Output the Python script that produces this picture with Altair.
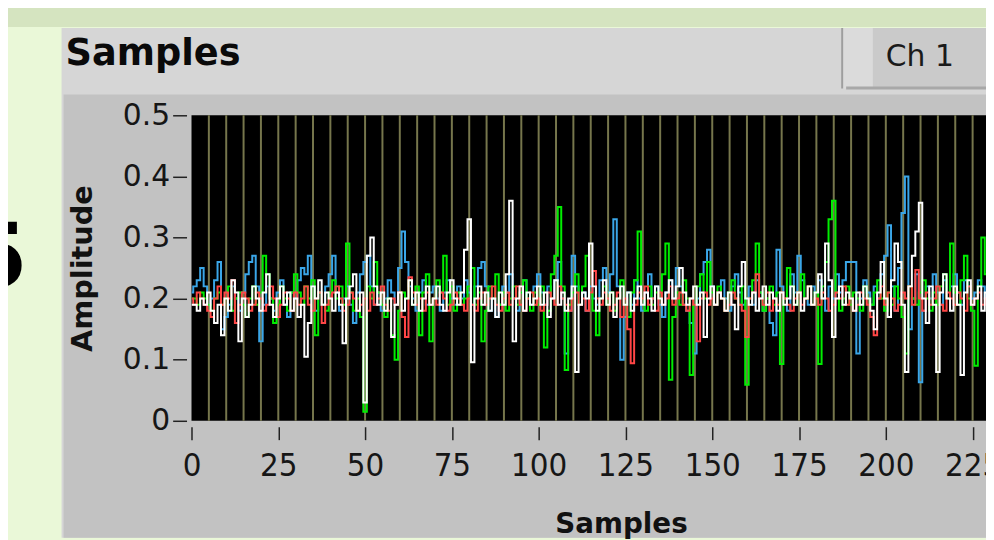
import altair as alt
import pandas as pd

# ---------------- data ----------------
ch_blue = [
    0.21, 0.22, 0.23, 0.25, 0.22, 0.19, 0.20, 0.23, 0.26, 0.15,
    0.17, 0.19, 0.22, 0.20, 0.18, 0.21, 0.24, 0.26, 0.27, 0.22,
    0.13, 0.19, 0.22, 0.20, 0.18, 0.21, 0.23, 0.19, 0.17, 0.21,
    0.20, 0.23, 0.25, 0.24, 0.27, 0.22, 0.18, 0.21, 0.19, 0.22,
    0.24, 0.27, 0.21, 0.18, 0.20, 0.22, 0.19, 0.16, 0.21, 0.24,
    0.26, 0.27, 0.22, 0.19, 0.21, 0.18, 0.20, 0.23, 0.21, 0.19,
    0.25, 0.31, 0.26, 0.22, 0.20, 0.18, 0.21, 0.23, 0.19, 0.21,
    0.22, 0.20, 0.18, 0.21, 0.23, 0.20, 0.19, 0.22, 0.20, 0.23,
    0.21, 0.19, 0.22, 0.25, 0.26, 0.22, 0.18, 0.20, 0.17, 0.19,
    0.22, 0.21, 0.24, 0.20, 0.18, 0.21, 0.23, 0.20, 0.19, 0.22,
    0.24, 0.21, 0.19, 0.22, 0.20, 0.23, 0.26, 0.20, 0.11, 0.18,
    0.27, 0.22, 0.19, 0.21, 0.18, 0.22, 0.20, 0.19, 0.23, 0.25,
    0.21, 0.24, 0.33, 0.22, 0.10, 0.17, 0.21, 0.19, 0.23, 0.20,
    0.18, 0.21, 0.24, 0.20, 0.22, 0.19, 0.17, 0.21, 0.23, 0.20,
    0.25, 0.22, 0.19, 0.18, 0.16, 0.11, 0.20, 0.24, 0.26, 0.28,
    0.22, 0.19, 0.21, 0.23, 0.20, 0.18, 0.22, 0.24, 0.21, 0.19,
    0.20, 0.22, 0.19, 0.23, 0.21, 0.18, 0.20, 0.16, 0.14, 0.28,
    0.22, 0.20, 0.18, 0.24, 0.21, 0.27, 0.23, 0.20, 0.19, 0.22,
    0.21, 0.23, 0.20, 0.18, 0.22, 0.20, 0.24, 0.21, 0.23, 0.26,
    0.26, 0.26, 0.11, 0.20, 0.23, 0.21, 0.19, 0.22, 0.20, 0.24,
    0.27, 0.32, 0.22, 0.18, 0.25, 0.34, 0.40, 0.15, 0.20, 0.24,
    0.063, 0.18, 0.22, 0.20, 0.24, 0.21, 0.19, 0.23, 0.20, 0.22,
    0.24, 0.21, 0.19, 0.23, 0.22, 0.20, 0.21, 0.23, 0.22, 0.20,
]
ch_green = [
    0.20, 0.20, 0.19, 0.21, 0.20, 0.19, 0.18, 0.20, 0.21, 0.19,
    0.20, 0.22, 0.18, 0.20, 0.21, 0.19, 0.17, 0.20, 0.22, 0.19,
    0.21, 0.27, 0.24, 0.20, 0.16, 0.19, 0.22, 0.20, 0.18, 0.21,
    0.24, 0.21, 0.19, 0.22, 0.20, 0.23, 0.14, 0.21, 0.19, 0.18,
    0.21, 0.23, 0.20, 0.22, 0.19, 0.29, 0.21, 0.18, 0.20, 0.17,
    0.015, 0.22, 0.20, 0.26, 0.21, 0.19, 0.17, 0.20, 0.14, 0.10,
    0.18, 0.21, 0.20, 0.23, 0.19, 0.22, 0.14, 0.21, 0.24, 0.13,
    0.20, 0.23, 0.21, 0.27, 0.19, 0.22, 0.18, 0.21, 0.19, 0.20,
    0.22, 0.25, 0.19, 0.21, 0.13, 0.18, 0.22, 0.20, 0.24, 0.19,
    0.21, 0.18, 0.20, 0.22, 0.19, 0.21, 0.23, 0.20, 0.18, 0.21,
    0.19, 0.22, 0.12, 0.18, 0.24, 0.27, 0.35, 0.22, 0.083, 0.19,
    0.21, 0.24, 0.19, 0.22, 0.27, 0.21, 0.18, 0.14, 0.20, 0.22,
    0.19, 0.21, 0.18, 0.20, 0.23, 0.19, 0.17, 0.21, 0.23, 0.31,
    0.20, 0.18, 0.22, 0.19, 0.21, 0.20, 0.24, 0.29, 0.067, 0.17,
    0.21, 0.19, 0.23, 0.20, 0.075, 0.19, 0.22, 0.24, 0.20, 0.26,
    0.21, 0.19, 0.22, 0.20, 0.18, 0.21, 0.23, 0.20, 0.19, 0.22,
    0.059, 0.20, 0.23, 0.29, 0.21, 0.18, 0.20, 0.22, 0.19, 0.21,
    0.093, 0.20, 0.25, 0.22, 0.19, 0.21, 0.24, 0.20, 0.22, 0.19,
    0.21, 0.093, 0.22, 0.26, 0.33, 0.36, 0.21, 0.18, 0.20, 0.22,
    0.19, 0.21, 0.20, 0.18, 0.22, 0.20, 0.19, 0.21, 0.23, 0.20,
    0.18, 0.21, 0.19, 0.22, 0.20, 0.17, 0.11, 0.22, 0.20, 0.19,
    0.21, 0.23, 0.20, 0.18, 0.21, 0.19, 0.22, 0.24, 0.20, 0.29,
    0.21, 0.19, 0.23, 0.27, 0.20, 0.18, 0.09, 0.22, 0.30, 0.24,
]
ch_red = [
    0.20, 0.19, 0.21, 0.20, 0.19, 0.18, 0.17, 0.20, 0.22, 0.19,
    0.21, 0.20, 0.23, 0.16, 0.19, 0.21, 0.20, 0.18, 0.19, 0.21,
    0.20, 0.18, 0.19, 0.22, 0.20, 0.17, 0.19, 0.21, 0.20, 0.18,
    0.21, 0.19, 0.20, 0.22, 0.19, 0.18, 0.20, 0.21, 0.16, 0.19,
    0.20, 0.21, 0.22, 0.20, 0.18, 0.19, 0.21, 0.20, 0.18, 0.19,
    0.20, 0.18, 0.21, 0.19, 0.20, 0.22, 0.19, 0.18, 0.20, 0.19,
    0.21, 0.17, 0.137, 0.235, 0.21, 0.19, 0.20, 0.18, 0.21, 0.19,
    0.20, 0.19, 0.21, 0.20, 0.18, 0.19, 0.21, 0.20, 0.19, 0.18,
    0.20, 0.19, 0.18, 0.20, 0.21, 0.19, 0.20, 0.22, 0.19, 0.18,
    0.20, 0.21, 0.19, 0.20, 0.22, 0.19, 0.18, 0.20, 0.21, 0.19,
    0.20, 0.18, 0.19, 0.21, 0.20, 0.19, 0.22, 0.20, 0.19, 0.18,
    0.20, 0.21, 0.19, 0.20, 0.18, 0.21, 0.245, 0.20, 0.19, 0.21,
    0.20, 0.18, 0.19, 0.21, 0.17, 0.20, 0.15, 0.094, 0.19, 0.21,
    0.20, 0.22, 0.19, 0.20, 0.18, 0.21, 0.19, 0.20, 0.22, 0.19,
    0.20, 0.21, 0.19, 0.18, 0.20, 0.19, 0.13, 0.20, 0.21, 0.19,
    0.20, 0.19, 0.21, 0.20, 0.18, 0.19, 0.21, 0.20, 0.19, 0.18,
    0.137, 0.20, 0.21, 0.24, 0.20, 0.19, 0.21, 0.18, 0.20, 0.19,
    0.21, 0.20, 0.19, 0.18, 0.20, 0.21, 0.19, 0.20, 0.22, 0.19,
    0.20, 0.19, 0.21, 0.20, 0.18, 0.19, 0.21, 0.20, 0.22, 0.19,
    0.20, 0.18, 0.19, 0.21, 0.20, 0.19, 0.17, 0.14, 0.20, 0.22,
    0.19, 0.21, 0.20, 0.18, 0.19, 0.21, 0.20, 0.22, 0.19, 0.247,
    0.20, 0.18, 0.21, 0.19, 0.20, 0.22, 0.19, 0.18, 0.21, 0.20,
    0.19, 0.21, 0.20, 0.18, 0.22, 0.19, 0.20, 0.21, 0.19, 0.20,
]
ch_white = [
    0.19, 0.19, 0.18, 0.20, 0.19, 0.21, 0.18, 0.16, 0.19, 0.14,
    0.20, 0.18, 0.23, 0.21, 0.13, 0.20, 0.17, 0.19, 0.22, 0.20,
    0.18, 0.21, 0.24, 0.19, 0.17, 0.20, 0.22, 0.19, 0.21, 0.18,
    0.20, 0.17, 0.19, 0.105, 0.16, 0.22, 0.20, 0.23, 0.19, 0.21,
    0.20, 0.18, 0.21, 0.19, 0.127, 0.20, 0.22, 0.24, 0.18, 0.21,
    0.03, 0.27, 0.30, 0.22, 0.19, 0.21, 0.18, 0.20, 0.137, 0.19,
    0.21, 0.18, 0.20, 0.23, 0.19, 0.21, 0.18, 0.20, 0.22, 0.19,
    0.20, 0.22, 0.19, 0.18, 0.21, 0.23, 0.20, 0.19, 0.21, 0.28,
    0.33, 0.096, 0.20, 0.22, 0.19, 0.21, 0.18, 0.20, 0.17, 0.21,
    0.19, 0.24, 0.36, 0.13, 0.20, 0.22, 0.18, 0.21, 0.19, 0.20,
    0.22, 0.19, 0.21, 0.17, 0.20, 0.23, 0.19, 0.21, 0.18, 0.20,
    0.22, 0.08, 0.19, 0.21, 0.20, 0.29, 0.22, 0.18, 0.20, 0.23,
    0.19, 0.21, 0.17, 0.20, 0.22, 0.19, 0.21, 0.18, 0.20, 0.22,
    0.19, 0.21, 0.20, 0.18, 0.22, 0.20, 0.19, 0.21, 0.23, 0.20,
    0.22, 0.25, 0.21, 0.19, 0.20, 0.22, 0.19, 0.21, 0.137, 0.20,
    0.22, 0.19, 0.21, 0.20, 0.18, 0.21, 0.19, 0.15, 0.22, 0.26,
    0.20, 0.19, 0.21, 0.18, 0.20, 0.22, 0.19, 0.21, 0.20, 0.18,
    0.21, 0.19, 0.20, 0.22, 0.19, 0.21, 0.18, 0.20, 0.22, 0.19,
    0.21, 0.24, 0.20, 0.29, 0.23, 0.137, 0.20, 0.22, 0.19, 0.21,
    0.20, 0.18, 0.21, 0.19, 0.22, 0.20, 0.18, 0.15, 0.21, 0.26,
    0.20, 0.17, 0.23, 0.29, 0.26, 0.19, 0.08, 0.22, 0.27, 0.31,
    0.357, 0.20, 0.16, 0.22, 0.19, 0.08, 0.21, 0.24, 0.20, 0.18,
    0.22, 0.19, 0.075, 0.21, 0.23, 0.19, 0.20, 0.22, 0.18, 0.21,
]
series_names = ["blue", "green", "red", "white"]
series_colors = ["#3aa6e8", "#00ee00", "#ff4646", "#ffffff"]
x_tick_values = [0, 25, 50, 75, 100, 125, 150, 175, 200, 225]
y_tick_values = [0, 0.1, 0.2, 0.3, 0.4, 0.5]
grid_values = list(range(5, 230, 5))

# ---------------- layout ----------------
W, H = 801, 308
X_MAX = W / 3.5

rows = []
for name, vals in zip(series_names, [ch_blue, ch_green, ch_red, ch_white]):
    for i, v in enumerate(vals):
        rows.append({"s": i, "v": v, "ch": name})
df = pd.DataFrame(rows)
grid_df = pd.DataFrame({"s": grid_values, "v": [0.25] * len(grid_values)})
one = pd.DataFrame({"a": [0]})

xscale = alt.Scale(domain=[0, X_MAX], nice=False, zero=False)
yscale = alt.Scale(domain=[0, 0.5], nice=False)

x_axis = alt.Axis(values=x_tick_values, grid=False, domain=False,
                  tickSize=13, tickWidth=1.5, tickColor="#222222", offset=6,
                  labelFont="DejaVu Sans Condensed, DejaVu Sans", labelFontSize=33,
                  labelColor="#161616",
                  labelPadding=10, labelFlush=False, labelOverlap=False,
                  titleFont="DejaVu Sans", titleFontSize=28, titleFontWeight="bold",
                  titleColor="#111111", titleX=433, titleY=99,
                  titleAlign="center", titleBaseline="middle", zindex=1)
y_axis = alt.Axis(values=y_tick_values, grid=False, domain=False,
                  tickSize=14, tickWidth=1.5, tickColor="#222222", offset=5,
                  labelFont="DejaVu Sans", labelFontSize=30, labelColor="#161616",
                  labelPadding=3, labelFlush=False, labelOverlap=False,
                  labelExpr="datum.value == 0 ? '0' : format(datum.value, '.1f')",
                  titleFont="DejaVu Sans", titleFontSize=29, titleFontWeight="bold",
                  titleColor="#111111", titleX=-105, titleY=154, titleAngle=270,
                  titleAlign="center", titleBaseline="middle", zindex=1)

X = alt.X("s:Q", scale=xscale, title="Samples", axis=x_axis)
Y = alt.Y("v:Q", scale=yscale, title="Amplitude", axis=y_axis)


def rect(x, x2, y, y2, color):
    return alt.Chart(one).mark_rect(color=color).encode(
        x=alt.value(x), x2=alt.value(x2), y=alt.value(y), y2=alt.value(y2)
    )


bg = [
    rect(-193, W, -114, -89, "#d5e4c0"),
    rect(-131, W, -88, 426, "#d6d6d6"),
    rect(-129, W, -21, 426, "#c2c2c2"),
    rect(655, 687, -88, -27, "#dbdbdb"),
    rect(687, W, -88, -27, "#cacaca"),
    rect(655, 657, -88, -27, "#9e9e9e"),
    rect(660, W, -29, -26, "#a8a8a8"),
    rect(0, W, 0, H, "#000000"),
]

texts = [
    alt.Chart(one).mark_text(text="Samples", font="DejaVu Sans", fontWeight="bold",
                             fontSize=37, align="left", baseline="alphabetic",
                             color="#0a0a0a").encode(x=alt.value(-127), y=alt.value(-51)),
    alt.Chart(one).mark_text(text="Ch 1", font="DejaVu Sans", fontSize=30,
                             align="left", baseline="alphabetic",
                             color="#1a1a1a").encode(x=alt.value(700), y=alt.value(-50)),
    alt.Chart(one).mark_text(text="5", font="DejaVu Sans", fontWeight="bold",
                             fontSize=90, align="right", baseline="middle",
                             color="#000000").encode(x=alt.value(-165), y=alt.value(146)),
]

grid = alt.Chart(grid_df).mark_rule(color="#76764c", strokeWidth=2).encode(
    x=X, y=alt.value(0), y2=alt.value(H),
)

lines = []
for name, color in zip(series_names, series_colors):
    lines.append(
        alt.Chart(df).transform_filter(alt.datum.ch == name)
        .mark_line(color=color, strokeWidth=2, interpolate="step", clip=True)
        .encode(x=X, y=Y)
    )

chart = alt.layer(*bg, *texts, grid, *lines).properties(
    width=W, height=H,
    autosize=alt.AutoSizeParams(type="none"),
    padding={"left": 185, "top": 106, "right": 0, "bottom": 118},
    background="#eaf8d8",
).configure_view(stroke="#9c9c9c", strokeWidth=2)

chart.save("out.html", embed_options={"renderer": "svg", "actions": False})
